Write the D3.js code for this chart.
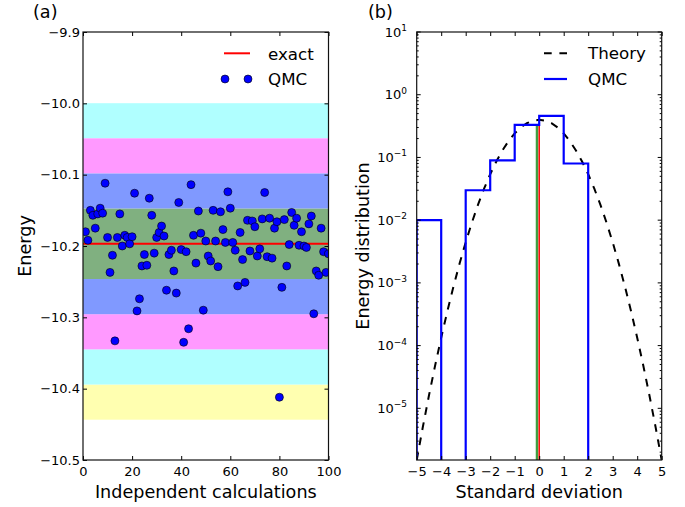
<!DOCTYPE html>
<html>
<head>
<meta charset="utf-8">
<script src="https://cdn.jsdelivr.net/npm/d3@7/dist/d3.min.js"></script>
<style>
  html, body { margin: 0; padding: 0; background: #fff; }
  svg { display: block; font-family: "DejaVu Sans", sans-serif; }
</style>
</head>
<body>
<svg id="chart" width="685" height="507"></svg>
<script>
// ---------------- DATA ----------------
// Panel (a): QMC energies of 100 independent calculations (index 1..100)
const qmcEnergies = [
  -10.180, -10.192, -10.150, -10.157, -10.175, -10.155, -10.147, -10.154, -10.112, -10.188,
  -10.237, -10.213, -10.333, -10.188, -10.155, -10.200, -10.185, -10.188, -10.197, -10.187,
  -10.126, -10.291, -10.274, -10.228, -10.212, -10.227, -10.133, -10.157, -10.210, -10.188,
  -10.181, -10.172, -10.186, -10.262, -10.212, -10.206, -10.235, -10.266, -10.139, -10.205,
  -10.335, -10.208, -10.316, -10.114, -10.185, -10.224, -10.151, -10.182, -10.290, -10.193,
  -10.214, -10.221, -10.150, -10.193, -10.229, -10.152, -10.177, -10.195, -10.124, -10.147,
  -10.195, -10.206, -10.256, -10.181, -10.219, -10.251, -10.164, -10.207, -10.165, -10.173,
  -10.214, -10.204, -10.162, -10.125, -10.215, -10.161, -10.217, -10.175, -10.166, -10.412,
  -10.258, -10.163, -10.228, -10.198, -10.153, -10.171, -10.161, -10.199, -10.180, -10.200,
  -10.202, -10.169, -10.158, -10.295, -10.235, -10.241, -10.175, -10.208, -10.237, -10.211
];
const exactEnergy = -10.197;
const sigmaEnergy = 0.0493;
// sigma bands (in units of sigma)
const bandLower = [-5, -4, 3, -3, 2, -2, 1, -1];
const bandUpper = [-4, -3, 4, -2, 3, -1, 2, 1];
const bandKind  = ["yellow", "cyan", "cyan", "magenta", "magenta", "blue", "blue", "green"];

const leftXTicks = [0, 20, 40, 60, 80, 100];
const leftYTicks = [-9.9, -10.0, -10.1, -10.2, -10.3, -10.4, -10.5];

// Panel (b): histogram of QMC deviations (bin edges and densities)
const histEdges  = [-5, -4, -3, -2, -1, 0, 1, 2];
const histValues = [0.01, 0, 0.03, 0.09, 0.33, 0.46, 0.08];
// Theory (normal distribution)
const theoryX = [-5, -4.75, -4.5, -4.25, -4, -3.75, -3.5, -3.25, -3, -2.75, -2.5, -2.25, -2, -1.75, -1.5, -1.25, -1, -0.75, -0.5, -0.25,
  0, 0.25, 0.5, 0.75, 1, 1.25, 1.5, 1.75, 2, 2.25, 2.5, 2.75, 3, 3.25, 3.5, 3.75, 4, 4.25, 4.5, 4.75, 5];
const theoryY = [1.4867e-6, 5.0301e-6, 1.5984e-5, 4.7705e-5, 1.3383e-4, 3.5260e-4, 8.7268e-4, 2.0290e-3, 4.4318e-3, 9.0936e-3,
  1.7528e-2, 3.1740e-2, 5.3991e-2, 8.6277e-2, 0.12952, 0.18265, 0.24197, 0.30114, 0.35207, 0.38667,
  0.39894, 0.38667, 0.35207, 0.30114, 0.24197, 0.18265, 0.12952, 8.6277e-2, 5.3991e-2, 3.1740e-2,
  1.7528e-2, 9.0936e-3, 4.4318e-3, 2.0290e-3, 8.7268e-4, 3.5260e-4, 1.3383e-4, 4.7705e-5, 1.5984e-5, 5.0301e-6, 1.4867e-6];
const meanLineX = -0.09;   // green: QMC mean
const exactLineX = 0;      // red: exact
const markerLineTop = 0.33;

const rightXTicks = [-5, -4, -3, -2, -1, 0, 1, 2, 3, 4, 5];
const rightYExponents = [-5, -4, -3, -2, -1, 0, 1];
const rightYDomain = [1.5e-6, 10];

// ---------------- STYLE ----------------
const bandColor = { yellow: "#ffffb0", cyan: "#b0ffff", magenta: "#ff99ff", blue: "#8099ff", green: "#80b080" };
const tickFont = 13, labelFont = 17.6, legendFont = 16.7;
const markerR = 4;

const svg = d3.select("#chart");
svg.append("rect").attr("width", 685).attr("height", 507).attr("fill", "#fff");

const plotTop = 32, plotBottom = 460;

// ---------------- PANEL A ----------------
const ax = d3.scaleLinear().domain([0, 100]).range([83, 328.5]);
const ay = d3.scaleLinear().domain([-9.9, -10.5]).range([plotTop, plotBottom]);
const gA = svg.append("g");

gA.append("defs").append("clipPath").attr("id", "clipA")
  .append("rect").attr("x", 83).attr("y", plotTop).attr("width", 328.5 - 83).attr("height", plotBottom - plotTop);
const plotA = gA.append("g").attr("clip-path", "url(#clipA)");

plotA.selectAll("rect.band").data(bandLower.map((l, i) => ({ lo: l, hi: bandUpper[i], kind: bandKind[i] })))
  .enter().append("rect").attr("class", "band")
  .attr("x", ax(0)).attr("width", ax(100) - ax(0))
  .attr("y", d => ay(exactEnergy + d.hi * sigmaEnergy))
  .attr("height", d => ay(exactEnergy + d.lo * sigmaEnergy) - ay(exactEnergy + d.hi * sigmaEnergy))
  .attr("fill", d => bandColor[d.kind]);

plotA.append("line")
  .attr("x1", ax(0)).attr("x2", ax(100))
  .attr("y1", ay(exactEnergy)).attr("y2", ay(exactEnergy))
  .attr("stroke", "#ff0000").attr("stroke-width", 2);

plotA.selectAll("circle.pt").data(qmcEnergies).enter().append("circle").attr("class", "pt")
  .attr("cx", (d, i) => ax(i + 1)).attr("cy", d => ay(d)).attr("r", markerR)
  .attr("fill", "#0000ff").attr("stroke", "#000").attr("stroke-width", 0.6);

// axes A
const fmtA = d3.format(".1f");
function styleAxis(g) {
  g.select(".domain").remove();
  g.selectAll(".tick line").attr("stroke", "#000").attr("stroke-width", 1);
  g.selectAll(".tick text").attr("font-size", tickFont).attr("fill", "#000").attr("font-family", "DejaVu Sans");
}
gA.append("g").attr("transform", `translate(0,${plotBottom})`)
  .call(d3.axisBottom(ax).tickValues(leftXTicks).tickSize(-4).tickPadding(7).tickFormat(d3.format("d"))).call(styleAxis);
gA.append("g").attr("transform", `translate(0,${plotTop})`)
  .call(d3.axisTop(ax).tickValues(leftXTicks).tickSize(-4).tickFormat("")).call(styleAxis);
gA.append("g").attr("transform", `translate(83,0)`)
  .call(d3.axisLeft(ay).tickValues(leftYTicks).tickSize(-4).tickPadding(3).tickFormat(fmtA)).call(styleAxis);
gA.append("g").attr("transform", `translate(328.5,0)`)
  .call(d3.axisRight(ay).tickValues(leftYTicks).tickSize(-4).tickFormat("")).call(styleAxis);
gA.append("rect").attr("x", 83).attr("y", plotTop).attr("width", 328.5 - 83).attr("height", plotBottom - plotTop)
  .attr("fill", "none").attr("stroke", "#111").attr("stroke-width", 1.2);

// legend A
gA.append("line").attr("x1", 224).attr("x2", 250).attr("y1", 53.3).attr("y2", 53.3)
  .attr("stroke", "#ff0000").attr("stroke-width", 2);
gA.append("text").attr("x", 268).attr("y", 59.5).attr("font-size", legendFont).text("exact");
[225, 248].forEach(cx => gA.append("circle").attr("cx", cx).attr("cy", 79).attr("r", markerR)
  .attr("fill", "#0000ff").attr("stroke", "#000").attr("stroke-width", 0.6));
gA.append("text").attr("x", 268).attr("y", 85).attr("font-size", legendFont).text("QMC");

gA.append("text").attr("x", 205.8).attr("y", 498).attr("text-anchor", "middle")
  .attr("font-size", labelFont).text("Independent calculations");
gA.append("text").attr("transform", `translate(31,246) rotate(-90)`).attr("text-anchor", "middle")
  .attr("font-size", labelFont).text("Energy");
gA.append("text").attr("x", 33).attr("y", 18).attr("font-size", labelFont).text("(a)");

// ---------------- PANEL B ----------------
const bx = d3.scaleLinear().domain([-5, 5]).range([416.7, 661.7]);
const by = d3.scaleLog().domain(rightYDomain).range([plotBottom, plotTop]);
const gB = svg.append("g");
gB.append("defs").append("clipPath").attr("id", "clipB")
  .append("rect").attr("x", 416.7).attr("y", plotTop).attr("width", 245).attr("height", plotBottom - plotTop);
const plotB = gB.append("g").attr("clip-path", "url(#clipB)");

const yv = v => v > 0 ? by(v) : plotBottom + 2;

// green / red markers
plotB.append("line").attr("x1", bx(meanLineX)).attr("x2", bx(meanLineX))
  .attr("y1", plotBottom).attr("y2", by(markerLineTop)).attr("stroke", "#3f9f3f").attr("stroke-width", 2.5);
plotB.append("line").attr("x1", bx(exactLineX)).attr("x2", bx(exactLineX))
  .attr("y1", plotBottom).attr("y2", by(markerLineTop)).attr("stroke", "#ff0000").attr("stroke-width", 1.5);

// theory dashed curve
const theoryLine = d3.line().x(d => bx(d[0])).y(d => by(d[1]));
plotB.append("path").datum(theoryX.map((x, i) => [x, theoryY[i]]))
  .attr("d", theoryLine).attr("fill", "none").attr("stroke", "#000")
  .attr("stroke-width", 2).attr("stroke-dasharray", "7.7,7.7");

// histogram step outline
const pts = [[bx(histEdges[0]), plotBottom + 2]];
histValues.forEach((v, i) => {
  pts.push([bx(histEdges[i]), yv(v)]);
  pts.push([bx(histEdges[i + 1]), yv(v)]);
});
pts.push([bx(histEdges[histEdges.length - 1]), plotBottom + 2]);
plotB.append("path").attr("d", d3.line()(pts)).attr("fill", "none")
  .attr("stroke", "#0000ff").attr("stroke-width", 2.2).attr("stroke-linejoin", "miter");

// axes B
const fmtB = d => (d < 0 ? "\u2212" : "") + Math.abs(d);
gB.append("g").attr("transform", `translate(0,${plotBottom})`)
  .call(d3.axisBottom(bx).tickValues(rightXTicks).tickSize(-4).tickPadding(7).tickFormat(fmtB)).call(styleAxis);
gB.append("g").attr("transform", `translate(0,${plotTop})`)
  .call(d3.axisTop(bx).tickValues(rightXTicks).tickSize(-4).tickFormat("")).call(styleAxis);

// log y ticks
const minorVals = [];
for (let e = -6; e <= 0; e++) for (let m = 2; m <= 9; m++) {
  const v = m * Math.pow(10, e);
  if (v >= rightYDomain[0] && v <= rightYDomain[1]) minorVals.push(v);
}
const tickG = gB.append("g");
minorVals.forEach(v => {
  tickG.append("line").attr("x1", 416.7).attr("x2", 418.7).attr("y1", by(v)).attr("y2", by(v)).attr("stroke", "#000");
  tickG.append("line").attr("x1", 661.7).attr("x2", 659.7).attr("y1", by(v)).attr("y2", by(v)).attr("stroke", "#000");
});
rightYExponents.forEach(e => {
  const y = by(Math.pow(10, e));
  tickG.append("line").attr("x1", 416.7).attr("x2", 420.7).attr("y1", y).attr("y2", y).attr("stroke", "#000");
  tickG.append("line").attr("x1", 661.7).attr("x2", 657.7).attr("y1", y).attr("y2", y).attr("stroke", "#000");
  const t = tickG.append("text").attr("x", 407).attr("y", y + 4.5).attr("text-anchor", "end").attr("font-size", tickFont);
  t.append("tspan").text("10");
  t.append("tspan").attr("font-size", 9).attr("dy", -5.5).text(e < 0 ? "\u2212" + Math.abs(e) : String(e));
});
gB.append("rect").attr("x", 416.7).attr("y", plotTop).attr("width", 245).attr("height", plotBottom - plotTop)
  .attr("fill", "none").attr("stroke", "#111").attr("stroke-width", 1.2);

// legend B
gB.append("line").attr("x1", 544).attr("x2", 567).attr("y1", 53.3).attr("y2", 53.3)
  .attr("stroke", "#000").attr("stroke-width", 2).attr("stroke-dasharray", "7.7,7.7");
gB.append("text").attr("x", 588).attr("y", 59).attr("font-size", legendFont).text("Theory");
gB.append("line").attr("x1", 544).attr("x2", 567).attr("y1", 79).attr("y2", 79)
  .attr("stroke", "#0000ff").attr("stroke-width", 2.2);
gB.append("text").attr("x", 588).attr("y", 85).attr("font-size", legendFont).text("QMC");

gB.append("text").attr("x", 539.2).attr("y", 498).attr("text-anchor", "middle")
  .attr("font-size", labelFont).text("Standard deviation");
gB.append("text").attr("transform", `translate(369,246) rotate(-90)`).attr("text-anchor", "middle")
  .attr("font-size", labelFont).text("Energy distribution");
gB.append("text").attr("x", 368).attr("y", 18).attr("font-size", labelFont).text("(b)");
</script>
</body>
</html>
